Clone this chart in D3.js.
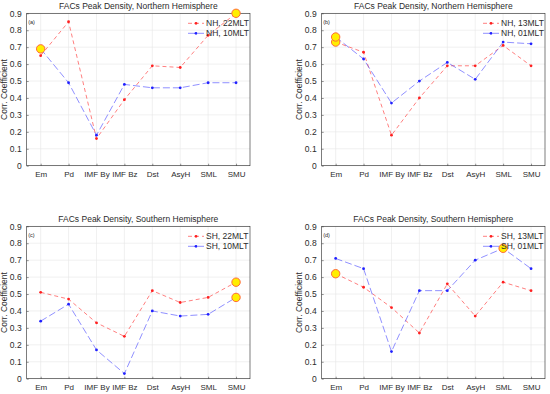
<!DOCTYPE html>
<html>
<head>
<meta charset="utf-8">
<script src="https://cdn.jsdelivr.net/npm/d3@7"></script>
<style>
  body { margin: 0; background: #fff; }
  svg { font-family: "Liberation Sans", Arial, sans-serif; }
</style>
</head>
<body>
<div id="chart"></div>
<script>
// categories and tick labels
const categories = ["Em", "Pd", "IMF By", "IMF Bz", "Dst", "AsyH", "SML", "SMU"];
const yTicks = [0, 0.1, 0.2, 0.3, 0.4, 0.5, 0.6, 0.7, 0.8, 0.9];

// panel (a) NH
const nh22 = [0.65, 0.85, 0.16, 0.39, 0.59, 0.58, 0.77, 0.90];
const nh10 = [0.69, 0.49, 0.18, 0.48, 0.46, 0.46, 0.49, 0.49];
// panel (b) NH
const nh13 = [0.73, 0.67, 0.18, 0.40, 0.59, 0.59, 0.71, 0.59];
const nh01 = [0.76, 0.63, 0.37, 0.50, 0.61, 0.51, 0.73, 0.72];
// panel (c) SH
const sh22 = [0.51, 0.47, 0.33, 0.25, 0.52, 0.45, 0.48, 0.57];
const sh10 = [0.34, 0.44, 0.17, 0.03, 0.40, 0.37, 0.38, 0.48];
// panel (d) SH
const sh13 = [0.62, 0.54, 0.42, 0.27, 0.56, 0.37, 0.57, 0.52];
const sh01 = [0.71, 0.65, 0.16, 0.52, 0.52, 0.70, 0.77, 0.65];

// highlighted maxima: [series index, category index]
const panels = [
  { tag: "(a)", title: "FACs Peak Density, Northern Hemisphere", red: nh22, blue: nh10,
    names: ["NH, 22MLT", "NH, 10MLT"], marks: [[1, 0], [0, 7]], left: 26.7, top: 13.3 },
  { tag: "(b)", title: "FACs Peak Density, Northern Hemisphere", red: nh13, blue: nh01,
    names: ["NH, 13MLT", "NH, 01MLT"], marks: [[0, 0], [1, 0]], left: 321.7, top: 13.3 },
  { tag: "(c)", title: "FACs Peak Density, Southern Hemisphere", red: sh22, blue: sh10,
    names: ["SH, 22MLT", "SH, 10MLT"], marks: [[0, 7], [1, 7]], left: 26.7, top: 226.3 },
  { tag: "(d)", title: "FACs Peak Density, Southern Hemisphere", red: sh13, blue: sh01,
    names: ["SH, 13MLT", "SH, 01MLT"], marks: [[0, 0], [1, 6]], left: 321.7, top: 226.3 }
];

const W = 550, H = 394;
const pw = 223.3, ph = 152.4;
const fs = 8.5;

const svg = d3.select("#chart").append("svg")
  .attr("width", W).attr("height", H);

const x = d3.scaleLinear().domain([0.5, 8.5]).range([0, pw]);
const y = d3.scaleLinear().domain([0, 0.9]).range([ph, 0]);

const styles = [
  { color: "#ff2020", line: "rgba(255,60,60,0.65)", dash: "4,3" },
  { color: "#2020ff", line: "rgba(70,70,255,0.6)", dash: "7,3" }
];

panels.forEach((p) => {
  const g = svg.append("g").attr("transform", `translate(${p.left},${p.top})`);

  // grid
  g.selectAll(".gy").data(yTicks).enter().append("line")
    .attr("x1", 0).attr("x2", pw)
    .attr("y1", (d) => y(d)).attr("y2", (d) => y(d))
    .attr("stroke", "#e6e6e6").attr("stroke-width", 0.6);
  g.selectAll(".gx").data(categories).enter().append("line")
    .attr("x1", (d, i) => x(i + 1)).attr("x2", (d, i) => x(i + 1))
    .attr("y1", 0).attr("y2", ph)
    .attr("stroke", "#e6e6e6").attr("stroke-width", 0.6);

  // axes
  const ax = g.append("g").attr("transform", `translate(0,${ph})`)
    .call(d3.axisBottom(x).tickValues(d3.range(1, 9)).tickFormat((d) => categories[d - 1])
      .tickSizeInner(-2).tickSizeOuter(0).tickPadding(6));
  const ay = g.append("g")
    .call(d3.axisLeft(y).tickValues(yTicks).tickFormat((d) => d === 0 ? "0" : d3.format(".1f")(d))
      .tickSizeInner(-2).tickSizeOuter(0).tickPadding(5));
  [ax, ay].forEach((a, j) => {
    a.selectAll("text").attr("font-size", j === 0 ? 8 : fs).attr("fill", "#2b2b2b")
      .attr("font-family", "Liberation Sans, Arial, sans-serif");
    a.selectAll("line").attr("stroke", "#262626").attr("stroke-width", 0.5);
    a.select(".domain").remove();
  });
  g.append("rect").attr("width", pw).attr("height", ph)
    .attr("fill", "none").attr("stroke", "#262626").attr("stroke-width", 0.6);

  // title, y label, panel tag
  g.append("text").attr("x", pw / 2).attr("y", -4).attr("text-anchor", "middle")
    .attr("font-size", fs).attr("fill", "#2b2b2b").text(p.title);
  g.append("text").attr("transform", `translate(-20,${ph / 2}) rotate(-90)`)
    .attr("text-anchor", "middle").attr("font-size", fs).attr("fill", "#2b2b2b")
    .text("Corr. Coefficient");
  g.append("text").attr("x", 1.5).attr("y", 10.5).attr("font-size", 5.5)
    .attr("fill", "#262626").text(p.tag);

  // series
  const line = d3.line().x((d, i) => x(i + 1)).y((d) => y(d));
  [p.red, p.blue].forEach((vals, k) => {
    const s = styles[k];
    g.append("path").datum(vals).attr("d", line).attr("fill", "none")
      .attr("stroke", s.line).attr("stroke-width", 1).attr("stroke-dasharray", s.dash);
    g.selectAll(".m" + k).data(vals).enter().append("circle")
      .attr("cx", (d, i) => x(i + 1)).attr("cy", (d) => y(d)).attr("r", 1.4)
      .attr("fill", s.color);
  });

  // highlighted points
  p.marks.forEach(([k, i]) => {
    const v = k === 0 ? p.red[i] : p.blue[i];
    g.append("circle").attr("cx", x(i + 1)).attr("cy", y(v)).attr("r", 4.2)
      .attr("fill", "#ffee00").attr("stroke", "#ff6a3a").attr("stroke-width", 1);
  });

  // legend
  const lg = g.append("g").attr("transform", `translate(${pw - 62},10)`);
  p.names.forEach((n, k) => {
    const s = styles[k];
    const row = lg.append("g").attr("transform", `translate(0,${k * 10})`);
    row.append("line").attr("x1", 0).attr("x2", 16).attr("y1", 0).attr("y2", 0)
      .attr("stroke", s.line).attr("stroke-width", 1).attr("stroke-dasharray", s.dash);
    row.append("circle").attr("cx", 8).attr("cy", 0).attr("r", 1.4).attr("fill", s.color);
    row.append("text").attr("x", 18).attr("y", 3).attr("font-size", fs)
      .attr("fill", "#2b2b2b").text(n);
  });
});
</script>
</body>
</html>
